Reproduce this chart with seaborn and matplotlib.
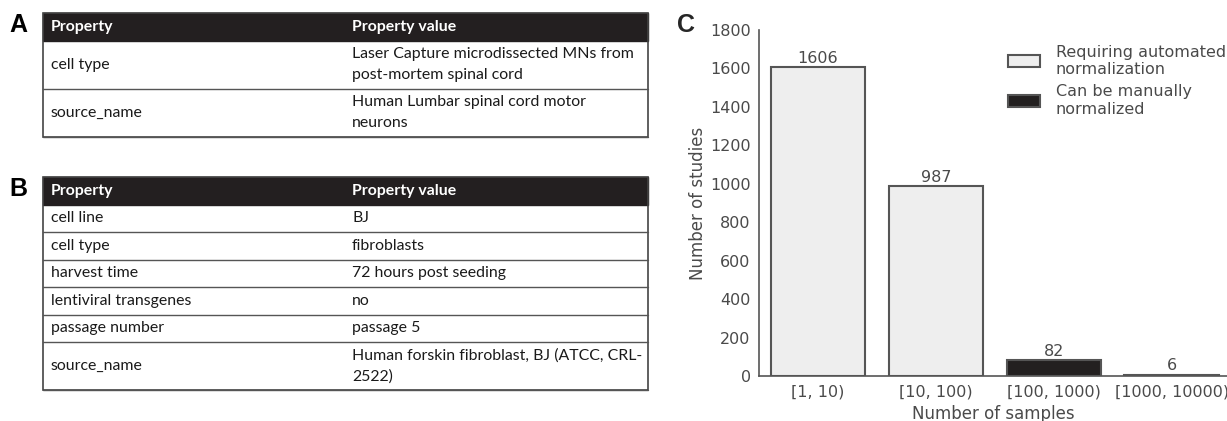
import matplotlib
matplotlib.use('Agg')
import matplotlib.pyplot as plt
import seaborn as sns
import pandas as pd
from matplotlib.patches import Rectangle

# ---- data ----
table_a_props = ["cell type", "source_name"]
table_a_values = ["Laser Capture microdissected MNs from\npost-mortem spinal cord",
                  "Human Lumbar spinal cord motor\nneurons"]

table_b_props = ["cell line", "cell type", "harvest time", "lentiviral transgenes",
                 "passage number", "source_name"]
table_b_values = ["BJ", "fibroblasts", "72 hours post seeding", "no", "passage 5",
                  "Human forskin fibroblast, BJ (ATCC, CRL-\n2522)"]

sample_bins = ["[1, 10)", "[10, 100)", "[100, 1000)", "[1000, 10000)"]
study_counts = [1606, 987, 82, 6]
AUTO = "Requiring automated\nnormalization"
MANUAL = "Can be manually\nnormalized"
norm_group = [AUTO, AUTO, MANUAL, MANUAL]

W, H = 1227, 421
DARK = '#231f20'
GREY_TXT = '#4a4a4a'

sns.set_style("white")
plt.rcParams['font.family'] = ['DejaVu Sans']

fig = plt.figure(figsize=(W / 100, H / 100), dpi=100)

# ---- tables (drawn in pixel space on a full-figure axes) ----
tax = fig.add_axes([0, 0, 1, 1])
tax.set_xlim(0, W)
tax.set_ylim(H, 0)
tax.axis('off')

TBL_L, TBL_R, COL2 = 43, 648, 344
HEAD_H = 27.5


def row_height(text):
    n = text.count("\n") + 1
    return 7 + 20.5 * n


def draw_table(top, props, values, letter):
    tax.text(18, top + 12, letter, fontsize=18, fontweight='bold',
             family='Liberation Sans', ha='center', va='center', color='black')
    tax.add_patch(Rectangle((TBL_L, top), TBL_R - TBL_L, HEAD_H,
                            facecolor=DARK, edgecolor=DARK, lw=1))
    tf = dict(family='Lato', fontsize=11.4, va='center')
    tax.text(TBL_L + 8, top + HEAD_H / 2, "Property", color='white',
             fontweight='bold', **tf)
    tax.text(COL2 + 8, top + HEAD_H / 2, "Property value", color='white',
             fontweight='bold', **tf)
    y = top + HEAD_H
    for p, v in zip(props, values):
        h = row_height(v)
        tax.text(TBL_L + 8, y + h / 2, p, color='#1a1a1a', linespacing=1.55, **tf)
        tax.text(COL2 + 8, y + h / 2, v, color='#1a1a1a', linespacing=1.55, **tf)
        y += h
        tax.plot([TBL_L, TBL_R], [y, y], color='#555555', lw=1)
    tax.add_patch(Rectangle((TBL_L, top), TBL_R - TBL_L, y - top,
                            facecolor='none', edgecolor='#444444', lw=1.2))


draw_table(13, table_a_props, table_a_values, "A")
draw_table(177, table_b_props, table_b_values, "B")

# ---- bar chart C ----
df = pd.DataFrame({"bin": sample_bins, "count": study_counts, "group": norm_group})

ax_l, ax_r, ax_t, ax_b = 759, 1227, 30, 376
ax = fig.add_axes([ax_l / W, 1 - ax_b / H, (ax_r - ax_l) / W, (ax_b - ax_t) / H])
sns.barplot(data=df, x="bin", y="count", hue="group", dodge=False,
            palette={AUTO: '#eeeeee', MANUAL: DARK}, edgecolor='#555555',
            linewidth=1.5, width=0.8, ax=ax)

for cont in ax.containers:
    ax.bar_label(cont, padding=1, fontsize=11.5, color=GREY_TXT)

ax.set_ylim(0, 1800)
ax.set_xlim(-0.5, 3.47)
ax.set_yticks(range(0, 1801, 200))
ax.set_xlabel("Number of samples", fontsize=12, color=GREY_TXT, labelpad=4)
ax.set_ylabel("Number of studies", fontsize=12, color=GREY_TXT, labelpad=2)
ax.tick_params(axis='both', labelsize=11.5, colors=GREY_TXT, length=0, pad=6)
sns.despine(ax=ax)
for s in ['left', 'bottom']:
    ax.spines[s].set_color('#555555')
    ax.spines[s].set_linewidth(1.2)

ax.legend(loc='upper left', bbox_to_anchor=(0.508, 0.99), frameon=False,
          fontsize=11.5, handlelength=2.0, handleheight=0.8, labelspacing=0.45,
          handletextpad=1.0, labelcolor=GREY_TXT, borderaxespad=0.3)

fig.text(686 / W, 1 - 25 / H, "C", fontsize=18, fontweight='bold',
         family='Liberation Sans', ha='center', va='center')

fig.savefig("out.png", dpi=100)
